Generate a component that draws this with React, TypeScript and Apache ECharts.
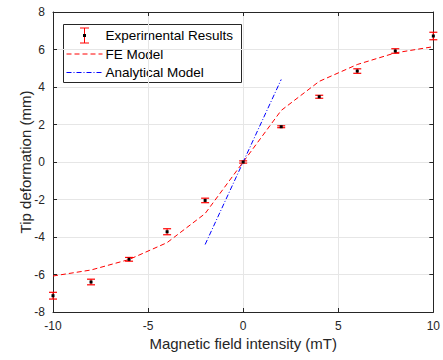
import React, { useEffect, useRef } from "react";
import * as echarts from "echarts";

const expX = [-10, -8, -6, -4, -2, 0, 2, 4, 6, 8, 10];
const expY = [-7.13, -6.4, -5.19, -3.72, -2.05, 0, 1.88, 3.48, 4.85, 5.92, 6.72];
const expErr = [0.18, 0.15, 0.1, 0.16, 0.12, 0.06, 0.05, 0.08, 0.12, 0.12, 0.2];

const feX = [-10, -8, -6, -4, -2, 0, 2, 4, 6, 8, 10];
const feY = [-6.08, -5.76, -5.2, -4.3, -2.75, 0, 2.75, 4.3, 5.2, 5.82, 6.15];

const anX = [-2, 2];
const anY = [-4.4, 4.4];

const xTicks = { min: -10, max: 10, interval: 5 };
const yTicks = { min: -8, max: 8, interval: 2 };

const FONT = "'Liberation Sans', Arial, Helvetica, sans-serif";
const AXIS_COLOR = "#262626";

export default function App() {
  const ref = useRef<HTMLDivElement>(null);
  useEffect(() => {
    if (!ref.current) return;
    const chart = echarts.init(ref.current, undefined, { renderer: "svg" });
    const tickLabel = { color: AXIS_COLOR, fontSize: 12, fontFamily: FONT };
    const option: any = {
      animation: false,
      backgroundColor: "#ffffff",
      grid: { left: 53, right: 7, top: 12, bottom: 48, show: false },
      xAxis: [
        {
          type: "value",
          min: xTicks.min,
          max: xTicks.max,
          interval: xTicks.interval,
          position: "bottom",
          name: "Magnetic field intensity (mT)",
          nameLocation: "middle",
          nameGap: 24,
          nameMoveOverlap: false,
          nameTextStyle: { color: AXIS_COLOR, fontSize: 15, fontFamily: FONT },
          axisLine: { show: true, onZero: false, lineStyle: { color: AXIS_COLOR, width: 1 } },
          axisTick: { show: true, inside: true, length: 4, lineStyle: { color: AXIS_COLOR } },
          axisLabel: { ...tickLabel, margin: 8 },
          splitLine: { show: true, lineStyle: { color: "#e6e6e6", width: 1 } },
        },
        {
          type: "value",
          min: xTicks.min,
          max: xTicks.max,
          interval: xTicks.interval,
          position: "top",
          axisLine: { show: true, onZero: false, lineStyle: { color: AXIS_COLOR, width: 1 } },
          axisTick: { show: true, inside: true, length: 4, lineStyle: { color: AXIS_COLOR } },
          axisLabel: { show: false },
          splitLine: { show: false },
        },
      ],
      yAxis: [
        {
          type: "value",
          min: yTicks.min,
          max: yTicks.max,
          interval: yTicks.interval,
          position: "left",
          name: "Tip deformation (mm)",
          nameLocation: "middle",
          nameGap: 20,
          nameRotate: 90,
          nameMoveOverlap: false,
          nameTextStyle: { color: AXIS_COLOR, fontSize: 15, fontFamily: FONT },
          axisLine: { show: true, onZero: false, lineStyle: { color: AXIS_COLOR, width: 1 } },
          axisTick: { show: true, inside: true, length: 4, lineStyle: { color: AXIS_COLOR } },
          axisLabel: { ...tickLabel, margin: 8 },
          splitLine: { show: true, lineStyle: { color: "#e6e6e6", width: 1 } },
        },
        {
          type: "value",
          min: yTicks.min,
          max: yTicks.max,
          interval: yTicks.interval,
          position: "right",
          axisLine: { show: true, onZero: false, lineStyle: { color: AXIS_COLOR, width: 1 } },
          axisTick: { show: true, inside: true, length: 4, lineStyle: { color: AXIS_COLOR } },
          axisLabel: { show: false },
          splitLine: { show: false },
        },
      ],
      series: [
        {
          name: "FE Model",
          type: "line",
          data: feX.map((x, i) => [x, feY[i]]),
          smooth: false,
          symbol: "none",
          lineStyle: { color: "#ff0000", width: 1, type: [5, 3] },
          z: 3,
        },
        {
          name: "Analytical Model",
          type: "line",
          data: anX.map((x, i) => [x, anY[i]]),
          symbol: "none",
          lineStyle: { color: "#0000ff", width: 1, type: [5, 2, 1, 2] },
          z: 3,
        },
        {
          name: "Experimental Results",
          type: "custom",
          clip: false,
          z: 4,
          data: expX.map((x, i) => [x, expY[i], expErr[i]]),
          renderItem: (params: any, api: any) => {
            const x = api.value(0);
            const y = api.value(1);
            const e = api.value(2);
            const top = api.coord([x, y + e]);
            const bot = api.coord([x, y - e]);
            const c = api.coord([x, y]);
            const hw = 4;
            const st = { stroke: "#ff0000", lineWidth: 1.2 };
            return {
              type: "group",
              children: [
                { type: "line", shape: { x1: top[0], y1: top[1], x2: bot[0], y2: bot[1] }, style: st },
                { type: "line", shape: { x1: top[0] - hw, y1: top[1], x2: top[0] + hw, y2: top[1] }, style: st },
                { type: "line", shape: { x1: bot[0] - hw, y1: bot[1], x2: bot[0] + hw, y2: bot[1] }, style: st },
                { type: "rect", shape: { x: c[0] - 1.5, y: c[1] - 1.5, width: 3, height: 3 }, style: { fill: "#000000" } },
              ],
            };
          },
        },
      ],
      graphic: [
        {
          type: "group",
          left: 63,
          top: 24,
          z: 10,
          children: [
            { type: "rect", shape: { x: 0, y: 0, width: 178, height: 58 }, style: { fill: "#ffffff", stroke: AXIS_COLOR, lineWidth: 1 } },
            { type: "line", shape: { x1: 21, y1: 3.5, x2: 21, y2: 18.5 }, style: { stroke: "#ff0000", lineWidth: 1 } },
            { type: "line", shape: { x1: 16.5, y1: 3.5, x2: 25.5, y2: 3.5 }, style: { stroke: "#ff0000", lineWidth: 1 } },
            { type: "line", shape: { x1: 16.5, y1: 18.5, x2: 25.5, y2: 18.5 }, style: { stroke: "#ff0000", lineWidth: 1 } },
            { type: "rect", shape: { x: 19.5, y: 9.5, width: 3, height: 3 }, style: { fill: "#000000" } },
            { type: "text", x: 42, y: 11, style: { text: "Experimental Results", fill: "#000000", font: `13.5px ${FONT}`, verticalAlign: "middle" } },
            { type: "line", shape: { x1: 3, y1: 29.5, x2: 39, y2: 29.5 }, style: { stroke: "#ff0000", lineWidth: 1, lineDash: [5, 3] } },
            { type: "text", x: 42, y: 29.5, style: { text: "FE Model", fill: "#000000", font: `13.5px ${FONT}`, verticalAlign: "middle" } },
            { type: "line", shape: { x1: 3, y1: 48, x2: 39, y2: 48 }, style: { stroke: "#0000ff", lineWidth: 1, lineDash: [5, 2, 1, 2] } },
            { type: "text", x: 42, y: 48, style: { text: "Analytical Model", fill: "#000000", font: `13.5px ${FONT}`, verticalAlign: "middle" } },
          ],
        },
      ],
    };
    chart.setOption(option);
    return () => chart.dispose();
  }, []);
  return <div ref={ref} style={{ width: 443, height: 360, position: "absolute", left: 0, top: 0 }} />;
}
